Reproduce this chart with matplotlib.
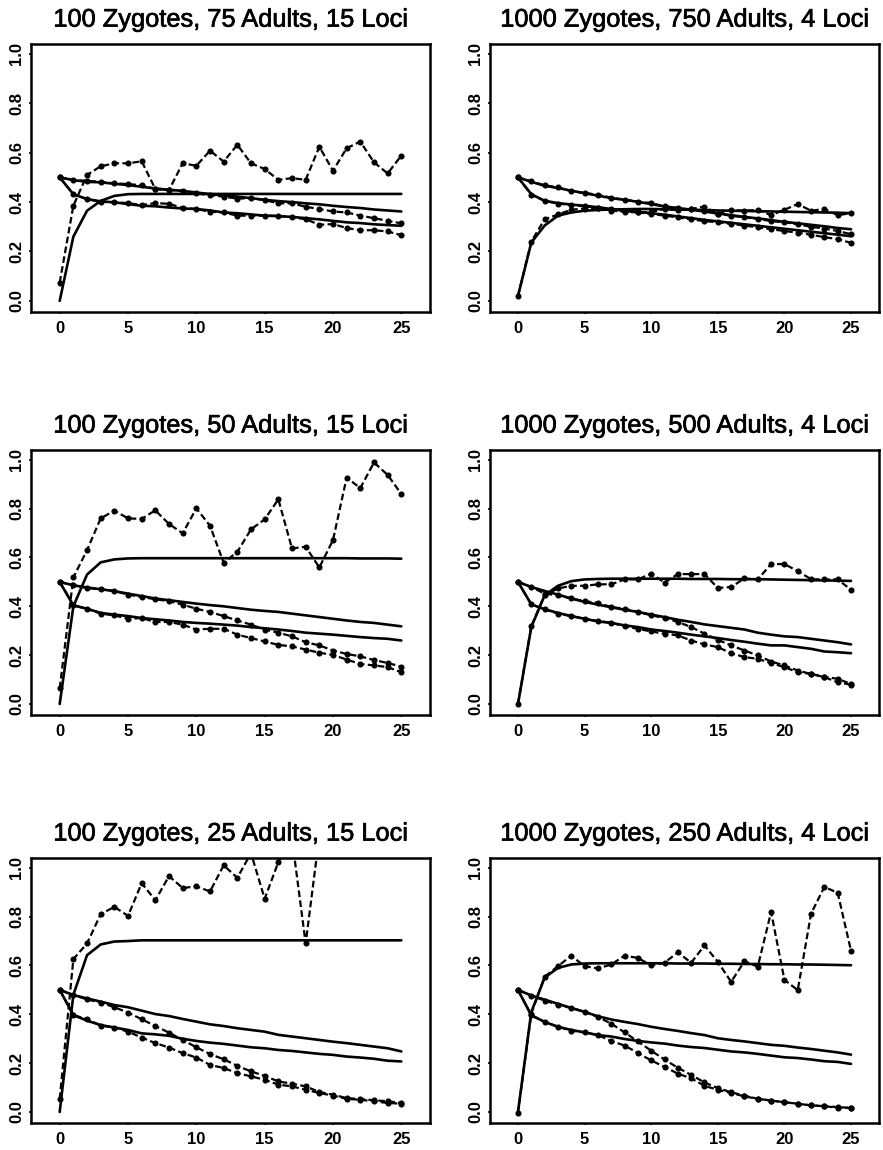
import matplotlib
matplotlib.use('Agg')
import matplotlib.pyplot as plt
import matplotlib.patheffects as pe

plt.rcParams['font.family'] = ['Liberation Sans', 'DejaVu Sans']

generations = list(range(26))

titles = [
    "100 Zygotes, 75 Adults, 15 Loci",
    "1000 Zygotes, 750 Adults, 4 Loci",
    "100 Zygotes, 50 Adults, 15 Loci",
    "1000 Zygotes, 500 Adults, 4 Loci",
    "100 Zygotes, 25 Adults, 15 Loci",
    "1000 Zygotes, 250 Adults, 4 Loci",
]
x_ticks = [0, 5, 10, 15, 20, 25]
y_ticks = [0.0, 0.2, 0.4, 0.6, 0.8, 1.0]
y_ticklabels = ["0.0", "0.2", "0.4", "0.6", "0.8", "1.0"]

# ---- Panel 1: 100 Zygotes, 75 Adults, 15 Loci ----
p1_theory_rise = [0.0, 0.26, 0.365, 0.405, 0.425, 0.432, 0.433, 0.433, 0.433, 0.433, 0.433, 0.433, 0.433,
                  0.433, 0.433, 0.433, 0.433, 0.433, 0.433, 0.433, 0.433, 0.433, 0.433, 0.433, 0.433, 0.433]
p1_sim_rise = [0.074, 0.385, 0.51, 0.545, 0.557, 0.557, 0.565, 0.453, 0.449, 0.557, 0.547, 0.608, 0.564,
               0.632, 0.557, 0.534, 0.49, 0.497, 0.49, 0.624, 0.527, 0.618, 0.645, 0.561, 0.516, 0.588]
p1_theory_upper = [0.5, 0.489, 0.482, 0.48, 0.474, 0.469, 0.462, 0.455, 0.45, 0.445, 0.439, 0.432, 0.427,
                   0.422, 0.416, 0.409, 0.404, 0.4, 0.395, 0.391, 0.385, 0.38, 0.376, 0.37, 0.366, 0.362]
p1_sim_upper = [0.5, 0.489, 0.486, 0.482, 0.476, 0.473, 0.468, 0.453, 0.449, 0.446, 0.435, 0.428, 0.422,
                0.414, 0.416, 0.408, 0.395, 0.395, 0.381, 0.372, 0.362, 0.358, 0.345, 0.335, 0.324, 0.314]
p1_theory_lower = [0.5, 0.432, 0.412, 0.403, 0.399, 0.392, 0.385, 0.383, 0.378, 0.374, 0.372, 0.366, 0.358,
                   0.355, 0.35, 0.345, 0.343, 0.34, 0.335, 0.33, 0.324, 0.318, 0.315, 0.31, 0.307, 0.304]
p1_sim_lower = [0.5, 0.432, 0.412, 0.401, 0.399, 0.396, 0.388, 0.396, 0.393, 0.376, 0.372, 0.361, 0.358,
                0.345, 0.345, 0.345, 0.345, 0.338, 0.331, 0.308, 0.311, 0.295, 0.286, 0.286, 0.281, 0.266]

# ---- Panel 2: 1000 Zygotes, 750 Adults, 4 Loci ----
p2_theory_rise = [0.02, 0.236, 0.305, 0.345, 0.358, 0.365, 0.368, 0.37, 0.371, 0.372, 0.372, 0.371, 0.37,
                  0.369, 0.368, 0.366, 0.365, 0.364, 0.363, 0.362, 0.361, 0.36, 0.359, 0.358, 0.357, 0.355]
p2_sim_rise = [0.02, 0.24, 0.33, 0.35, 0.369, 0.374, 0.378, 0.365, 0.361, 0.358, 0.36, 0.372, 0.367,
               0.372, 0.382, 0.351, 0.369, 0.365, 0.369, 0.347, 0.369, 0.392, 0.365, 0.372, 0.347, 0.355]
p2_theory_upper = [0.5, 0.482, 0.466, 0.457, 0.446, 0.436, 0.426, 0.416, 0.409, 0.401, 0.392, 0.382, 0.376,
                   0.369, 0.362, 0.354, 0.347, 0.34, 0.334, 0.327, 0.32, 0.314, 0.308, 0.302, 0.295, 0.29]
p2_sim_upper = [0.5, 0.484, 0.468, 0.46, 0.444, 0.437, 0.43, 0.418, 0.41, 0.402, 0.396, 0.383, 0.375,
                0.37, 0.364, 0.352, 0.345, 0.338, 0.332, 0.323, 0.318, 0.31, 0.3, 0.293, 0.283, 0.27]
p2_theory_lower = [0.5, 0.432, 0.405, 0.396, 0.39, 0.385, 0.379, 0.372, 0.368, 0.361, 0.355, 0.349, 0.342,
                   0.335, 0.328, 0.322, 0.316, 0.31, 0.304, 0.298, 0.292, 0.286, 0.28, 0.274, 0.268, 0.262]
p2_sim_lower = [0.5, 0.43, 0.405, 0.394, 0.388, 0.383, 0.378, 0.37, 0.364, 0.358, 0.352, 0.345, 0.338,
                0.33, 0.323, 0.318, 0.312, 0.305, 0.298, 0.29, 0.283, 0.276, 0.268, 0.258, 0.25, 0.235]

# ---- Panel 3: 100 Zygotes, 50 Adults, 15 Loci ----
p3_theory_rise = [0.0, 0.40, 0.53, 0.58, 0.592, 0.596, 0.597, 0.597, 0.597, 0.597, 0.597, 0.597, 0.597,
                  0.597, 0.597, 0.597, 0.597, 0.597, 0.597, 0.597, 0.597, 0.597, 0.596, 0.596, 0.596, 0.595]
p3_sim_rise = [0.064, 0.518, 0.63, 0.76, 0.792, 0.76, 0.758, 0.793, 0.737, 0.699, 0.801, 0.73, 0.578,
               0.623, 0.715, 0.756, 0.838, 0.637, 0.644, 0.559, 0.671, 0.927, 0.884, 0.989, 0.938, 0.86]
p3_theory_upper = [0.5, 0.486, 0.477, 0.47, 0.462, 0.452, 0.442, 0.432, 0.425, 0.418, 0.411, 0.405, 0.40,
                   0.393, 0.386, 0.381, 0.377, 0.37, 0.363, 0.356, 0.349, 0.342, 0.336, 0.332, 0.325, 0.318]
p3_sim_upper = [0.5, 0.486, 0.475, 0.47, 0.463, 0.448, 0.438, 0.429, 0.421, 0.407, 0.39, 0.377, 0.36,
                0.342, 0.325, 0.305, 0.292, 0.277, 0.253, 0.24, 0.219, 0.205, 0.195, 0.18, 0.168, 0.153]
p3_theory_lower = [0.5, 0.404, 0.39, 0.373, 0.366, 0.36, 0.352, 0.347, 0.342, 0.336, 0.332, 0.329, 0.325,
                   0.321, 0.315, 0.31, 0.305, 0.299, 0.292, 0.288, 0.284, 0.279, 0.274, 0.27, 0.267, 0.26]
p3_sim_lower = [0.5, 0.404, 0.39, 0.37, 0.363, 0.349, 0.352, 0.336, 0.336, 0.325, 0.305, 0.308, 0.308,
                0.284, 0.27, 0.256, 0.242, 0.236, 0.223, 0.21, 0.201, 0.182, 0.164, 0.158, 0.151, 0.13]

# ---- Panel 4: 1000 Zygotes, 500 Adults, 4 Loci ----
p4_theory_rise = [0.0, 0.315, 0.445, 0.484, 0.503, 0.51, 0.512, 0.513, 0.513, 0.513, 0.513, 0.513, 0.513,
                  0.512, 0.512, 0.512, 0.511, 0.511, 0.511, 0.51, 0.509, 0.508, 0.507, 0.506, 0.505, 0.504]
p4_sim_rise = [0.0, 0.319, 0.445, 0.473, 0.484, 0.484, 0.49, 0.49, 0.51, 0.51, 0.534, 0.497, 0.532,
               0.532, 0.532, 0.475, 0.479, 0.514, 0.51, 0.573, 0.573, 0.544, 0.511, 0.51, 0.51, 0.468]
p4_theory_upper = [0.5, 0.479, 0.463, 0.448, 0.432, 0.418, 0.407, 0.396, 0.386, 0.377, 0.366, 0.356, 0.345,
                   0.336, 0.326, 0.319, 0.312, 0.305, 0.292, 0.284, 0.277, 0.274, 0.267, 0.26, 0.253, 0.244]
p4_sim_upper = [0.5, 0.479, 0.452, 0.445, 0.432, 0.421, 0.414, 0.397, 0.39, 0.377, 0.363, 0.352, 0.336,
                0.315, 0.288, 0.263, 0.24, 0.219, 0.199, 0.174, 0.158, 0.137, 0.123, 0.112, 0.103, 0.082]
p4_theory_lower = [0.5, 0.408, 0.388, 0.373, 0.36, 0.349, 0.338, 0.332, 0.322, 0.315, 0.305, 0.299, 0.292,
                   0.284, 0.277, 0.27, 0.262, 0.255, 0.247, 0.24, 0.24, 0.233, 0.226, 0.215, 0.212, 0.208]
p4_sim_lower = [0.5, 0.408, 0.388, 0.37, 0.36, 0.349, 0.34, 0.333, 0.318, 0.308, 0.297, 0.288, 0.281,
                0.26, 0.244, 0.233, 0.208, 0.192, 0.185, 0.167, 0.151, 0.13, 0.123, 0.11, 0.089, 0.079]

# ---- Panel 5: 100 Zygotes, 25 Adults, 15 Loci ----
p5_theory_rise = [0.0, 0.48, 0.642, 0.686, 0.698, 0.70, 0.703, 0.703, 0.703, 0.703, 0.703, 0.703, 0.703,
                  0.703, 0.703, 0.703, 0.703, 0.703, 0.703, 0.703, 0.703, 0.703, 0.703, 0.703, 0.703, 0.703]
p5_sim_rise = [0.053, 0.626, 0.69, 0.81, 0.84, 0.803, 0.937, 0.867, 0.966, 0.917, 0.924, 0.903, 1.01,
               0.959, 1.06, 0.873, 1.023, 1.12, 0.69, 1.13, 1.18, 1.2, 1.16, 1.22, 1.19, 1.2]
p5_theory_upper = [0.5, 0.479, 0.465, 0.452, 0.438, 0.429, 0.415, 0.401, 0.393, 0.381, 0.37, 0.359, 0.352,
                   0.343, 0.336, 0.329, 0.316, 0.309, 0.302, 0.295, 0.288, 0.282, 0.275, 0.268, 0.261, 0.248]
p5_sim_upper = [0.5, 0.479, 0.461, 0.448, 0.429, 0.407, 0.38, 0.352, 0.325, 0.295, 0.265, 0.237, 0.216,
                0.189, 0.166, 0.148, 0.125, 0.116, 0.105, 0.082, 0.071, 0.057, 0.053, 0.048, 0.044, 0.037]
p5_theory_lower = [0.5, 0.397, 0.374, 0.356, 0.346, 0.336, 0.322, 0.318, 0.312, 0.3, 0.291, 0.284, 0.279,
                   0.272, 0.265, 0.261, 0.254, 0.25, 0.244, 0.238, 0.234, 0.227, 0.223, 0.218, 0.21, 0.207]
p5_sim_lower = [0.5, 0.397, 0.38, 0.354, 0.346, 0.329, 0.305, 0.282, 0.264, 0.241, 0.223, 0.193, 0.18,
                0.159, 0.146, 0.132, 0.112, 0.105, 0.091, 0.078, 0.067, 0.054, 0.05, 0.044, 0.037, 0.034]

# ---- Panel 6: 1000 Zygotes, 250 Adults, 4 Loci ----
p6_theory_rise = [0.0, 0.41, 0.55, 0.59, 0.604, 0.608, 0.609, 0.609, 0.609, 0.609, 0.609, 0.609, 0.608,
                  0.608, 0.608, 0.607, 0.607, 0.606, 0.606, 0.605, 0.605, 0.604, 0.604, 0.603, 0.602, 0.601]
p6_sim_rise = [-0.004, 0.403, 0.554, 0.597, 0.64, 0.597, 0.588, 0.604, 0.64, 0.631, 0.6, 0.611, 0.654,
               0.611, 0.682, 0.615, 0.533, 0.617, 0.595, 0.819, 0.541, 0.499, 0.812, 0.922, 0.897, 0.66]
p6_theory_upper = [0.5, 0.477, 0.46, 0.443, 0.426, 0.41, 0.392, 0.379, 0.369, 0.36, 0.349, 0.34, 0.332,
                   0.323, 0.315, 0.302, 0.295, 0.289, 0.282, 0.275, 0.271, 0.264, 0.258, 0.251, 0.244, 0.235]
p6_sim_upper = [0.5, 0.477, 0.456, 0.439, 0.426, 0.41, 0.389, 0.362, 0.326, 0.289, 0.251, 0.215, 0.181,
                0.152, 0.121, 0.098, 0.081, 0.067, 0.054, 0.047, 0.04, 0.034, 0.027, 0.024, 0.02, 0.017]
p6_theory_lower = [0.5, 0.396, 0.369, 0.349, 0.336, 0.326, 0.315, 0.309, 0.299, 0.291, 0.285, 0.28, 0.272,
                   0.266, 0.262, 0.255, 0.248, 0.244, 0.238, 0.231, 0.224, 0.221, 0.215, 0.208, 0.205, 0.197]
p6_sim_lower = [0.5, 0.396, 0.369, 0.349, 0.333, 0.326, 0.315, 0.291, 0.272, 0.242, 0.211, 0.185, 0.157,
                0.138, 0.107, 0.091, 0.078, 0.064, 0.054, 0.047, 0.04, 0.034, 0.027, 0.024, 0.017, 0.017]

panels = [
    (p1_theory_rise, p1_sim_rise, p1_theory_upper, p1_sim_upper, p1_theory_lower, p1_sim_lower),
    (p2_theory_rise, p2_sim_rise, p2_theory_upper, p2_sim_upper, p2_theory_lower, p2_sim_lower),
    (p3_theory_rise, p3_sim_rise, p3_theory_upper, p3_sim_upper, p3_theory_lower, p3_sim_lower),
    (p4_theory_rise, p4_sim_rise, p4_theory_upper, p4_sim_upper, p4_theory_lower, p4_sim_lower),
    (p5_theory_rise, p5_sim_rise, p5_theory_upper, p5_sim_upper, p5_theory_lower, p5_sim_lower),
    (p6_theory_rise, p6_sim_rise, p6_theory_upper, p6_sim_upper, p6_theory_lower, p6_sim_lower),
]

W, H = 883, 1150
fig = plt.figure(figsize=(W / 100, H / 100), dpi=100)

col_px = [(31, 430), (490, 879)]
row_px = [(44, 312), (450, 715), (858, 1123)]

for i, series in enumerate(panels):
    r, c = divmod(i, 2)
    x0, x1 = col_px[c]
    t, b = row_px[r]
    ax = fig.add_axes([x0 / W, (H - b) / H, (x1 - x0) / W, (b - t) / H])
    t_rise, s_rise, t_up, s_up, t_lo, s_lo = series
    for th in (t_rise, t_up, t_lo):
        ax.plot(generations, th, color='black', lw=1.9, solid_joinstyle='round',
                solid_capstyle='round')
    for sm in (s_rise, s_up, s_lo):
        ax.plot(generations, sm, color='black', lw=1.6, linestyle=(0, (3, 1.5)),
                marker='o', markersize=4.4, markerfacecolor='black', markeredgewidth=0)
    ax.set_xlim(-2.1, 27.1)
    ax.set_ylim(-0.045, 1.04)
    ax.set_xticks(x_ticks)
    ax.set_xticklabels([str(v) for v in x_ticks], fontsize=12, fontweight='bold')
    ax.set_yticks(y_ticks)
    ax.set_yticklabels(y_ticklabels, fontsize=12, fontweight='bold', rotation=90, va='center')
    ax.tick_params(axis='x', direction='out', length=1.5, width=1.2, pad=5)
    ax.tick_params(axis='y', direction='out', length=1.5, width=1.2, pad=3.5)
    for sp in ax.spines.values():
        sp.set_linewidth(1.8)
    ttl = ax.set_title(titles[i], fontsize=18.3, pad=12.5)
    ttl.set_path_effects([pe.withStroke(linewidth=0.5, foreground='black')])

fig.savefig('out.png', dpi=100)
